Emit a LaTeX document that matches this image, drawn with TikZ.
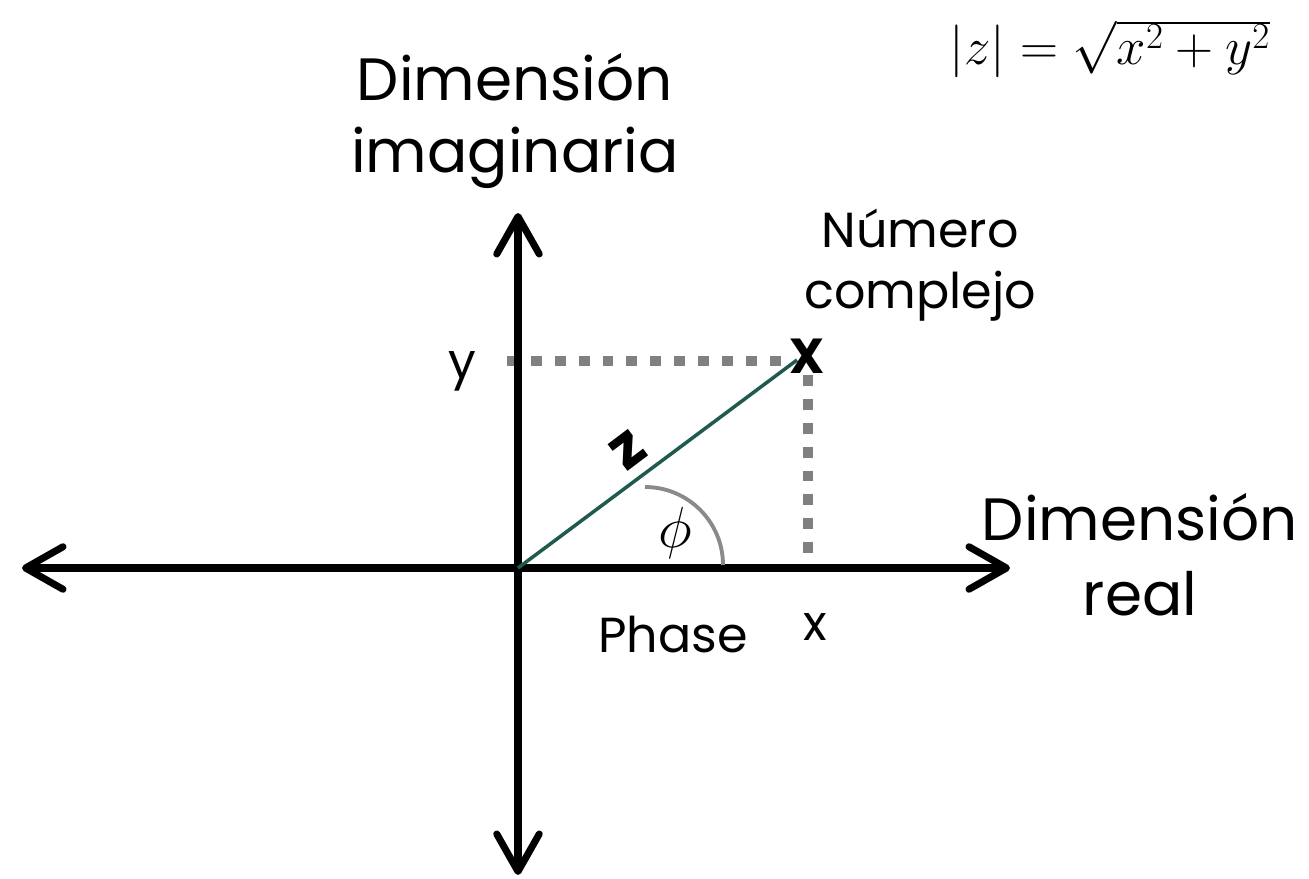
\documentclass[tikz,border=0pt]{standalone}
\usepackage{fix-cm}
\usepackage{fontspec}
\setmainfont{Poppins}
\usetikzlibrary{arrows.meta}
\definecolor{zgreen}{HTML}{205A4E}
\definecolor{dgray}{HTML}{808080}
\definecolor{agray}{HTML}{8A8A8A}
\begin{document}
\begin{tikzpicture}[x=0.02cm,y=-0.02cm,
  axis/.style={line width=4pt,line cap=round,
    {Straight Barb[length=0.75cm,width=0.85cm,line cap=round,line join=round]}-{Straight Barb[length=0.75cm,width=0.85cm,line cap=round,line join=round]}},
  dots/.style={dgray,line width=6.2pt,dash pattern=on 6.2pt off 7.4pt},
  dotshadow/.style={black!18,line width=6.2pt,dash pattern=on 6.2pt off 7.4pt,shift={(2,4)}},
  big/.style={font=\fontsize{34}{40}\selectfont,anchor=base,inner sep=0pt},
  mid/.style={font=\fontsize{28}{32}\selectfont,anchor=base,inner sep=0pt}]
\useasboundingbox (0,0) rectangle (1309,879);
% coordinates
\coordinate (O) at (518,568);
\coordinate (L) at (22,568);
\coordinate (R) at (1010,568);
\coordinate (T) at (518,213);
\coordinate (B) at (518,875);
\coordinate (yd) at (507,361);
\coordinate (yp) at (790,361);
\coordinate (xd) at (808,375);
\coordinate (xp) at (808,556);
% dashed projections
\draw[dotshadow] (yd) -- (yp);
\draw[dotshadow] (xd) -- (xp);
\draw[dots] (yd) -- (yp);
\draw[dots] (xd) -- (xp);
% axes
\draw[axis] (L) -- (R);
\draw[axis] (B) -- (T);
% vector
\coordinate (P) at (797,360);
\draw[zgreen,line width=2pt] (O) -- (P);
\node[font=\fontsize{28}{30}\selectfont\bfseries,inner sep=0pt] (X) at (807,356) {X};
\node[font=\fontsize{34}{36}\selectfont\bfseries,rotate=37,inner sep=0pt] (zl) at (628,450) {z};
% angle
\coordinate (a0) at (645,487);
\draw[agray,line width=2.2pt] (a0) arc[start angle=-90,end angle=0,radius=78];
\node[font=\fontsize{33}{36}\selectfont,inner sep=0pt] (phi) at (675,533) {$\phi$};
% labels
\node[big] (di1) at (515,100) {Dimensión};
\node[big] (di2) at (515,172) {imaginaria};
\node[big] (dr1) at (1140,540) {Dimensión};
\node[big] (dr2) at (1140,615) {real};
\node[mid] (nc1) at (920,247) {Número};
\node[mid] (nc2) at (920,308) {complejo};
\node[mid] (ly) at (462,378) {y};
\node[mid] (lx) at (815,640) {x};
\node[mid] (ph) at (673,652) {Phase};
\node[font=\fontsize{30}{34}\selectfont,inner sep=0pt,anchor=base] (f) at (1110,64) {$|z| = \sqrt{x^2+y^2}$};
\end{tikzpicture}
\end{document}
